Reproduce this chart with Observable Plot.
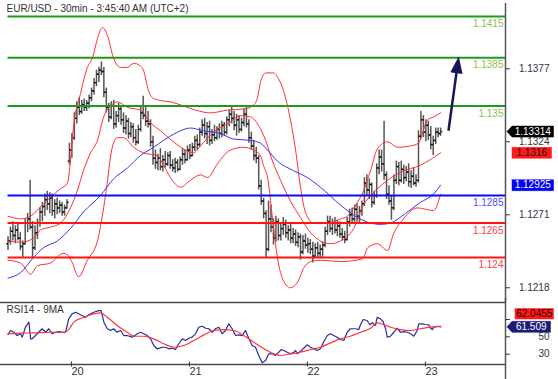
<!DOCTYPE html>
<html><head><meta charset="utf-8">
<script src="https://cdn.jsdelivr.net/npm/d3@7"></script>
<script src="https://cdn.jsdelivr.net/npm/@observablehq/plot@0.6"></script>
<style>
html,body{margin:0;padding:0;background:#fff;overflow:hidden}
#chart{position:relative;width:558px;height:379px}
#chart svg{position:absolute;left:0}
</style></head><body><div id="chart"></div>
<script>
// ---------------- DATA ----------------
const titleText = ["EUR/USD - 30min - 3:45:40 AM (UTC+2)"];
const rsiTitle = ["RSI14 - 9MA"];

// 30-minute OHLC bars (bar index 0 .. 176)
const barOpen = [
 1.1250,1.1252,1.1259,1.1256,1.1260,1.1254,1.1248,1.1250,1.1265,1.1268,1.1262,1.1247,1.1258,1.1265,1.1273,1.1277,1.1282,1.1279,1.1283,1.1274,1.1279,1.1276,1.1278,1.1273,1.1276,
 1.1310,1.1318,1.1327,1.1341,1.1349,1.1346,1.1351,1.1349,1.1352,1.1356,1.1361,1.1367,1.1373,1.1376,1.1375,
 1.1360,1.1349,1.1342,1.1350,1.1337,1.1343,1.1348,1.1340,1.1334,1.1339,1.1330,1.1335,1.1327,1.1324,1.1333,1.1345,1.1343,1.1339,1.1337,1.1324,1.1312,1.1309,1.1312,
 1.1306,1.1311,1.1308,1.1314,1.1307,1.1305,1.1309,1.1304,1.1311,1.1315,1.1311,1.1318,1.1314,1.1320,1.1325,1.1322,1.1331,1.1336,1.1330,1.1335,1.1325,1.1329,1.1327,1.1333,1.1330,1.1336,1.1331,1.1340,1.1344,1.1341,1.1336,1.1340,1.1333,1.1338,1.1344,1.1337,1.1327,1.1321,1.1314,1.1312,1.1292,
 1.1281,1.1272,1.1246,1.1268,1.1262,1.1254,1.1266,1.1256,1.1261,1.1264,1.1258,1.1260,1.1254,1.1257,1.1251,1.1255,1.1244,1.1252,1.1249,1.1250,1.1246,1.1241,1.1247,1.1243,1.1246,
 1.1249,1.1259,1.1266,1.1261,1.1265,1.1260,1.1263,1.1257,1.1255,1.1253,1.1266,1.1271,1.1268,1.1275,1.1270,1.1274,1.1279,1.1294,1.1289,1.1293,1.1280,1.1285,1.1305,1.1313,1.1308,1.1300,1.1286,1.1281,1.1276,1.1296,1.1306,1.1296,1.1304,1.1298,1.1302,1.1295,1.1299,1.1294,1.1296,1.1328,1.1340,1.1331,1.1336,1.1329,1.1322,1.1325,1.1331,1.1330
];
const barHigh = [
 1.1255,1.1262,1.1266,1.1263,1.1264,1.1258,1.1252,1.1268,1.1272,1.1296,1.1266,1.1263,1.1268,1.1276,1.1280,1.1286,1.1288,1.1287,1.1286,1.1282,1.1283,1.1281,1.1280,1.1278,1.1282,
 1.1323,1.1330,1.1345,1.1353,1.1356,1.1354,1.1355,1.1354,1.1358,1.1363,1.1370,1.1376,1.1378,1.1382,1.1378,
 1.1363,1.1352,1.1353,1.1354,1.1346,1.1352,1.1350,1.1345,1.1343,1.1341,1.1338,1.1337,1.1333,1.1336,1.1349,1.1357,1.1350,1.1346,1.1340,1.1328,1.1318,1.1315,1.1319,
 1.1314,1.1317,1.1316,1.1317,1.1311,1.1312,1.1311,1.1313,1.1319,1.1318,1.1321,1.1322,1.1323,1.1328,1.1329,1.1334,1.1340,1.1341,1.1338,1.1339,1.1333,1.1336,1.1335,1.1337,1.1339,1.1338,1.1342,1.1347,1.1349,1.1346,1.1344,1.1343,1.1341,1.1348,1.1350,1.1340,1.1331,1.1325,1.1320,1.1314,1.1296,
 1.1283,1.1274,1.1281,1.1278,1.1268,1.1270,1.1268,1.1265,1.1269,1.1267,1.1263,1.1264,1.1261,1.1260,1.1258,1.1257,1.1256,1.1257,1.1254,1.1253,1.1251,1.1250,1.1251,1.1249,1.1251,
 1.1262,1.1270,1.1270,1.1268,1.1269,1.1267,1.1266,1.1261,1.1259,1.1269,1.1275,1.1276,1.1278,1.1279,1.1277,1.1281,1.1298,1.1300,1.1297,1.1294,1.1288,1.1308,1.1318,1.1318,1.1339,1.1302,1.1292,1.1285,1.1300,1.1310,1.1309,1.1310,1.1307,1.1306,1.1308,1.1303,1.1305,1.1300,1.1332,1.1346,1.1343,1.1340,1.1339,1.1335,1.1328,1.1334,1.1334,1.1334
];
const barLow = [
 1.1245,1.1249,1.1252,1.1250,1.1252,1.1245,1.1240,1.1249,1.1258,1.1260,1.1240,1.1245,1.1253,1.1262,1.1266,1.1270,1.1274,1.1272,1.1270,1.1268,1.1271,1.1272,1.1270,1.1270,1.1275,
 1.1307,1.1312,1.1325,1.1337,1.1343,1.1344,1.1346,1.1346,1.1348,1.1353,1.1358,1.1364,1.1367,1.1372,1.1356,
 1.1345,1.1338,1.1340,1.1333,1.1334,1.1338,1.1336,1.1330,1.1329,1.1326,1.1327,1.1323,1.1321,1.1322,1.1331,1.1340,1.1335,1.1334,1.1320,1.1307,1.1304,1.1303,1.1303,
 1.1302,1.1305,1.1306,1.1304,1.1302,1.1301,1.1302,1.1303,1.1307,1.1308,1.1310,1.1311,1.1313,1.1317,1.1318,1.1320,1.1328,1.1326,1.1322,1.1321,1.1322,1.1324,1.1325,1.1326,1.1327,1.1328,1.1329,1.1335,1.1337,1.1332,1.1328,1.1330,1.1331,1.1335,1.1334,1.1323,1.1318,1.1310,1.1308,1.1289,1.1278,
 1.1268,1.1240,1.1244,1.1258,1.1249,1.1251,1.1252,1.1252,1.1256,1.1254,1.1252,1.1250,1.1250,1.1248,1.1247,1.1238,1.1242,1.1246,1.1243,1.1242,1.1236,1.1239,1.1240,1.1239,1.1240,
 1.1247,1.1256,1.1258,1.1256,1.1257,1.1255,1.1254,1.1252,1.1250,1.1252,1.1262,1.1264,1.1265,1.1266,1.1264,1.1270,1.1277,1.1285,1.1282,1.1276,1.1278,1.1283,1.1300,1.1302,1.1296,1.1282,1.1278,1.1267,1.1274,1.1293,1.1292,1.1294,1.1293,1.1295,1.1291,1.1290,1.1292,1.1291,1.1294,1.1326,1.1327,1.1324,1.1325,1.1318,1.1314,1.1322,1.1327,1.1328
];
const barClose = [
 1.1252,1.1259,1.1256,1.1260,1.1254,1.1248,1.1250,1.1265,1.1268,1.1262,1.1247,1.1258,1.1265,1.1273,1.1277,1.1282,1.1279,1.1283,1.1274,1.1279,1.1276,1.1278,1.1273,1.1276,1.1280,
 1.1318,1.1327,1.1341,1.1349,1.1346,1.1351,1.1349,1.1352,1.1356,1.1361,1.1367,1.1373,1.1376,1.1375,1.1360,
 1.1349,1.1342,1.1350,1.1337,1.1343,1.1348,1.1340,1.1334,1.1339,1.1330,1.1335,1.1327,1.1324,1.1333,1.1345,1.1343,1.1339,1.1337,1.1324,1.1312,1.1309,1.1312,1.1306,
 1.1311,1.1308,1.1314,1.1307,1.1305,1.1309,1.1304,1.1311,1.1315,1.1311,1.1318,1.1314,1.1320,1.1325,1.1322,1.1331,1.1336,1.1330,1.1335,1.1325,1.1329,1.1327,1.1333,1.1330,1.1336,1.1331,1.1340,1.1344,1.1341,1.1336,1.1340,1.1333,1.1338,1.1344,1.1337,1.1327,1.1321,1.1314,1.1312,1.1292,1.1281,
 1.1272,1.1246,1.1268,1.1262,1.1254,1.1266,1.1256,1.1261,1.1264,1.1258,1.1260,1.1254,1.1257,1.1251,1.1255,1.1244,1.1252,1.1249,1.1250,1.1246,1.1241,1.1247,1.1243,1.1246,1.1249,
 1.1259,1.1266,1.1261,1.1265,1.1260,1.1263,1.1257,1.1255,1.1253,1.1266,1.1271,1.1268,1.1275,1.1270,1.1274,1.1279,1.1294,1.1289,1.1293,1.1280,1.1285,1.1305,1.1313,1.1308,1.1300,1.1286,1.1281,1.1276,1.1296,1.1306,1.1296,1.1304,1.1298,1.1302,1.1295,1.1299,1.1294,1.1296,1.1328,1.1340,1.1331,1.1336,1.1329,1.1322,1.1325,1.1331,1.1330,1.13314
];

// Bollinger bands (20) and blue moving average, sampled [bar, price]
const bbUpper = [[0,1.1270],[5.1,1.1268],[9.2,1.1270],[14.4,1.1279],[21.4,1.1290],[24.2,1.1294],[25.4,1.1310],[26.6,1.1334],[29.5,1.1359],[32.3,1.1378],[34.4,1.1385],[36.4,1.1399],[38.4,1.1407],[40.5,1.1401],[42.9,1.1385],[45.8,1.1378],[48.6,1.1378],[51.1,1.1381],[53.9,1.1379],[55.1,1.1376],[57.2,1.1361],[58.8,1.1356],[62.0,1.1354],[66.1,1.1353],[71.4,1.1350],[76.3,1.1347],[82.4,1.1345],[89.3,1.1347],[96.6,1.1348],[99.5,1.1350],[101.5,1.1356],[102.7,1.1367],[104.8,1.1374],[108.0,1.1374],[110.0,1.1370],[112.1,1.1361],[114.9,1.1340],[117.0,1.1318],[119.0,1.1291],[121.0,1.1273],[124.3,1.1265],[130.0,1.1265],[135.3,1.1268],[138.1,1.1270],[141.4,1.1278],[144.3,1.1287],[147.5,1.1303],[150.3,1.1319],[154.4,1.1324],[158.5,1.1320],[163.8,1.1321],[167.0,1.1323],[170.7,1.1340],[173.1,1.1342],[176.0,1.1345]];
const bbMiddle = [[0,1.1252],[5.1,1.1251],[10.4,1.1254],[13.2,1.1260],[17.3,1.1262],[21.4,1.1265],[25.4,1.1276],[28.3,1.1289],[30.7,1.1303],[33.6,1.1316],[36.4,1.1325],[38.9,1.1342],[41.7,1.1350],[44.5,1.1353],[48.6,1.1349],[53.9,1.1347],[57.9,1.1338],[62.0,1.1332],[67.3,1.1324],[72.2,1.1318],[75.5,1.1316],[78.3,1.1321],[83.6,1.1331],[89.3,1.1337],[94.6,1.1343],[98.7,1.1342],[101.9,1.1336],[104.8,1.1325],[107.6,1.1310],[110.9,1.1296],[114.9,1.1281],[119.0,1.1269],[123.1,1.1258],[127.1,1.1252],[131.2,1.1250],[135.3,1.1252],[140.6,1.1261],[144.6,1.1278],[148.7,1.1287],[154.4,1.1296],[159.7,1.1302],[167.8,1.1307],[176.0,1.1316]];
const bbLower = [[0,1.1238],[5.1,1.1236],[9.2,1.1228],[12.0,1.1234],[17.3,1.1236],[22.6,1.1243],[24.2,1.1242],[26.2,1.1236],[28.7,1.1226],[32.3,1.1238],[36.4,1.1252],[38.9,1.1276],[40.5,1.1296],[41.7,1.1313],[42.9,1.1323],[44.5,1.1327],[47.0,1.1327],[51.1,1.1320],[55.1,1.1316],[60.8,1.1314],[63.3,1.1307],[66.1,1.1298],[70.2,1.1291],[74.2,1.1296],[78.3,1.1300],[81.2,1.1298],[85.2,1.1308],[90.5,1.1318],[95.8,1.1320],[99.9,1.1318],[102.7,1.1314],[103.9,1.1307],[105.6,1.1298],[108.0,1.1262],[109.6,1.1240],[112.1,1.1223],[114.9,1.1218],[117.8,1.1222],[120.2,1.1232],[123.1,1.1237],[127.1,1.1238],[135.3,1.1237],[144.3,1.1239],[146.3,1.1247],[150.3,1.1250],[154.4,1.1245],[156.8,1.1257],[160.9,1.1268],[166.6,1.1276],[173.1,1.1274],[176.0,1.1286]];
const blueMA = [[0,1.1225],[5.1,1.1229],[10.4,1.1240],[14.4,1.1247],[20.1,1.1252],[25.4,1.1261],[30.7,1.1273],[37.6,1.1285],[42.9,1.1297],[48.6,1.1305],[53.9,1.1314],[59.2,1.1320],[63.3,1.1325],[69.0,1.1331],[74.2,1.1334],[79.5,1.1332],[86.5,1.1330],[91.7,1.1326],[98.7,1.1325],[102.7,1.1323],[105.6,1.1318],[109.6,1.1310],[116.2,1.1303],[121.8,1.1298],[127.1,1.1291],[135.3,1.1278],[142.2,1.1269],[147.5,1.1265],[151.5,1.1264],[155.6,1.1265],[161.7,1.1272],[167.8,1.1280],[173.1,1.1286],[176.0,1.12925]];

// RSI(14) and its 9-period MA, sampled [bar, value]
const rsi14 = [[0,52.7],[1.0,57.3],[2.4,55.3],[3.7,51.5],[5.1,53.5],[5.8,49.6],[7.1,61.1],[8.5,66.9],[9.2,47.7],[9.8,47.7],[11.2,51.5],[12.5,55.3],[13.9,59.3],[15.3,55.3],[16.6,59.3],[18.0,53.5],[19.3,55.3],[20.7,56.1],[22.0,55.3],[23.4,55.3],[24.1,63.1],[24.7,70.8],[26.1,76.5],[27.5,78.4],[29.5,75.4],[31.5,72.6],[32.9,75.4],[34.9,78.4],[36.9,80.3],[37.9,80.3],[39.0,66.9],[40.4,59.3],[41.7,57.3],[43.0,59.3],[44.4,55.3],[45.8,57.3],[47.1,51.5],[48.5,51.5],[50.5,49.6],[52.6,53.5],[53.9,55.3],[55.2,53.5],[56.6,51.5],[58.0,47.7],[59.3,40.0],[60.7,36.2],[62.7,38.0],[64.1,38.0],[65.4,36.2],[66.8,36.9],[68.1,35.4],[69.5,42.0],[70.9,47.7],[72.2,45.8],[73.6,48.4],[74.9,49.6],[76.3,53.5],[77.6,61.1],[79.0,62.2],[80.4,59.9],[81.7,59.3],[83.1,55.3],[84.4,59.3],[85.8,61.1],[87.1,53.5],[88.5,57.3],[89.8,65.0],[91.2,59.3],[92.6,51.5],[93.9,52.3],[95.3,51.5],[96.6,57.3],[98.0,47.7],[99.3,40.0],[100.7,38.0],[102.0,28.5],[103.4,20.1],[104.8,22.7],[106.1,30.4],[107.5,30.4],[108.8,28.5],[110.2,32.3],[111.2,35.4],[112.2,34.2],[113.6,32.3],[114.9,30.4],[116.3,32.3],[117.0,34.2],[117.7,30.4],[119.0,33.1],[120.3,36.9],[121.7,40.8],[123.1,38.0],[124.4,36.2],[125.8,34.2],[127.1,36.2],[128.5,44.6],[129.9,51.5],[131.2,53.5],[132.5,51.5],[133.9,49.6],[135.3,46.9],[136.6,45.8],[138.0,55.3],[139.3,59.3],[141.4,59.3],[142.7,58.4],[143.4,63.9],[144.5,70.0],[146.1,68.8],[147.2,63.9],[148.2,66.2],[149.5,63.1],[150.2,72.6],[151.5,70.8],[152.6,67.7],[153.6,59.3],[154.3,49.6],[155.6,50.7],[157.0,55.3],[158.3,59.9],[159.7,55.3],[161.0,56.1],[162.4,55.3],[163.8,53.5],[165.1,50.7],[166.5,57.3],[167.1,65.0],[168.5,65.0],[169.9,64.2],[171.2,63.9],[171.9,59.9],[172.6,58.4],[173.3,61.1],[174.6,62.2],[176.0,61.509]];
const rsiMA9 = [[0,53.5],[5.1,54.2],[10.5,54.6],[17.3,55.3],[22.7,55.3],[24.7,58.4],[26.8,66.9],[30.9,72.6],[34.9,76.5],[37.6,77.7],[40.4,72.6],[44.4,63.1],[48.5,55.3],[51.2,50.7],[55.2,50.7],[59.3,47.7],[63.4,42.0],[67.5,38.0],[71.5,40.0],[75.6,45.8],[79.7,52.3],[83.7,57.3],[87.8,58.4],[91.9,57.3],[95.9,51.5],[100.0,43.8],[104.1,36.2],[108.2,30.4],[110.9,28.5],[114.9,30.4],[119.0,32.3],[123.1,35.4],[127.1,38.0],[131.2,43.1],[135.3,47.7],[139.3,50.7],[143.4,55.3],[147.5,59.9],[150.2,66.2],[152.9,63.9],[155.6,61.1],[159.7,58.4],[163.8,57.3],[167.8,59.3],[171.9,61.1],[176.0,62.0455]];

// Support / resistance levels
const levelValue = [1.1415, 1.1385, 1.135, 1.1285, 1.1265, 1.124];
const levelLabel = ["1.1415", "1.1385", "1.135", "1.1285", "1.1265", "1.124"];
const levelKind = ["resistance", "resistance", "resistance", "pivot", "support", "support"];

// Forecast arrow (from last price toward 1.1385)
const arrowFrom = {bar: 179.2, price: 1.1332};
const arrowTo = {bar: 183.3, price: 1.1385};

// Axis ticks (the 70 tick label sits hidden behind the value tags in the reference)
const priceTicks = [1.1377, 1.1324, 1.1271, 1.1218];
const rsiTicks = [70, 50, 30];
const rsiTickLabels = ["", "50", "30"];
const dayStartBar = [25, 73, 121, 169];
const dayLabels = ["20", "21", "22", "23"];

// ---------------- LAYOUT ----------------
const FONT = '"Liberation Sans", Arial, Helvetica, sans-serif';
const W = 558, MR = 53;
const PH = 302;                        // price panel height
const xMin = -3.05, xMax = 202.4;
const pMin = 1.12073, pMax = 1.14266;
const kx = (W - MR) / (xMax - xMin);
const kp = PH / (pMax - pMin);
const xOf = px => xMin + px / kx;       // page px -> bar
const pOfPx = py => pMax - py / kp;     // px -> price
const pxOfP = v => (pMax - v) * kp;

const RTOP = 298, RH = 81, RMT = 4, RMB = 15;
const rMin = 18.1, rMax = 89.6;
const kr = (RH - RMT - RMB) / (rMax - rMin);
const rOfPx = py => rMax - (py - RMT) / kr;   // local px -> rsi
const pxOfR = v => RMT + (rMax - v) * kr;

const bars = barClose.map((c, i) => ({i, open: barOpen[i], high: barHigh[i], low: barLow[i], close: c}));
const pts = arr => arr.map(([i, v]) => ({i, v}));
const levels = levelValue.map((v, k) => ({v, label: levelLabel[k], kind: levelKind[k]}));
const lineColor = {resistance: "#1e9a1e", pivot: "#0a0aff", support: "#ff1414"};
const textColor = {resistance: "#8cc43f", pivot: "#5050ff", support: "#ff3c3c"};

function tag(value, {bg, fg, pointer, left, right, h = 11, nudge = 0}, toPx, fromPx) {
  const cy = toPx(value) + nudge, top = cy - h / 2, bot = cy + h / 2;
  const P = pointer
    ? [[left, cy], [left + 5, top], [right, top], [right, bot], [left + 5, bot], [left, cy]]
    : [[left, top], [right, top], [right, bot], [left, bot], [left, top]];
  const poly = P.map(([px, py]) => ({x: xOf(px), y: fromPx(py)}));
  return [
    Plot.line(poly, {x: "x", y: "y", fill: bg, stroke: bg, strokeWidth: 0.5, curve: "linear"}),
    Plot.text([String(value)], {x: xOf((left + (pointer ? 5 : 0) + right) / 2), y: fromPx(cy), text: d => d,
      fill: fg, fontSize: 10, textAnchor: "middle"})
  ];
}

// arrow head geometry (in screen px, converted back to data)
const sx = (arrowTo.bar - arrowFrom.bar) * kx, sy = -(arrowTo.price - arrowFrom.price) * kp;
const L = Math.hypot(sx, sy), ux = sx / L, uy = sy / L, nx = -uy, ny = ux;
const headLen = 15, headHalf = 5.5;
const toData = (dxp, dyp) => ({i: arrowTo.bar + dxp / kx, v: arrowTo.price - dyp / kp});
const head = [toData(0, 0), toData(-ux * headLen + nx * headHalf, -uy * headLen + ny * headHalf),
  toData(-ux * headLen - nx * headHalf, -uy * headLen - ny * headHalf), toData(0, 0)];
const shaftEnd = toData(-ux * headLen * 0.8, -uy * headLen * 0.8);

const last = bars[bars.length - 1];

const pricePlot = Plot.plot({
  width: W, height: PH, marginLeft: 0, marginRight: MR, marginTop: 0, marginBottom: 0,
  x: {domain: [xMin, xMax], axis: null},
  y: {domain: [pMin, pMax]},
  style: {background: "transparent", fontFamily: FONT, overflow: "visible"},
  marks: [
    Plot.ruleX([xMax], {y1: pOfPx(3), y2: pOfPx(PH), stroke: "#555", strokeWidth: 1.5}),
    Plot.axisY(priceTicks, {anchor: "right", tickSize: 4, tickPadding: 40, textAnchor: "end",
      tickFormat: d => d.toFixed(4), fontSize: 10, color: "#333344"}),
    Plot.text(titleText, {frameAnchor: "top-left", text: d => d, dx: 6, dy: 4.5, fontSize: 10, fill: "#333"}),
    // bars
    Plot.ruleX(bars, {x: "i", y1: "low", y2: "high", stroke: "#555", strokeWidth: 1.5}),
    Plot.link(bars, {x1: d => d.i - 0.7, x2: "i", y1: "open", y2: "open", stroke: "#111", strokeWidth: 1.4}),
    Plot.link(bars, {x1: "i", x2: d => d.i + 0.7, y1: "close", y2: "close", stroke: "#111", strokeWidth: 1.4}),
    // bands and MA
    Plot.line(pts(bbUpper), {x: "i", y: "v", stroke: "#ff3030", strokeWidth: 1, curve: "monotone-x"}),
    Plot.line(pts(bbMiddle), {x: "i", y: "v", stroke: "#ff3030", strokeWidth: 1, curve: "monotone-x"}),
    Plot.line(pts(bbLower), {x: "i", y: "v", stroke: "#ff3030", strokeWidth: 1, curve: "monotone-x"}),
    Plot.line(pts(blueMA), {x: "i", y: "v", stroke: "#3535ff", strokeWidth: 1, curve: "monotone-x"}),
    // levels
    Plot.ruleY(levels, {y: "v", x1: 0, x2: xMax, stroke: d => lineColor[d.kind], strokeWidth: 2}),
    Plot.text(levels, {x: xMax, y: "v", text: "label", textAnchor: "end", dx: -2, dy: 7.5,
      fill: d => textColor[d.kind], fontSize: 10}),
    // forecast arrow
    Plot.link([{}], {x1: arrowFrom.bar, y1: arrowFrom.price, x2: shaftEnd.i, y2: shaftEnd.v,
      stroke: "#16165a", strokeWidth: 2.5}),
    Plot.line(head, {x: "i", y: "v", fill: "#16165a", stroke: "#16165a", strokeWidth: 1}),
    // value tags
    ...tag(last.close, {bg: "#000", fg: "#fff", pointer: true, left: 506.5, right: 553}, pxOfP, pOfPx),
    ...tag(bbMiddle[bbMiddle.length - 1][1], {bg: "#ff1a1a", fg: "#221111", pointer: false, left: 511.5, right: 551}, pxOfP, pOfPx),
    ...tag(blueMA[blueMA.length - 1][1], {bg: "#0000ff", fg: "#fff", pointer: false, left: 511.5, right: 553}, pxOfP, pOfPx)
  ]
});
pricePlot.style.top = "0px";

const rsiPlot = Plot.plot({
  width: W, height: RH, marginLeft: 0, marginRight: MR, marginTop: RMT, marginBottom: RMB,
  x: {domain: [xMin, xMax]},
  y: {domain: [rMin, rMax]},
  style: {background: "transparent", fontFamily: FONT, overflow: "visible"},
  marks: [
    Plot.ruleX([xMax], {y1: rOfPx(0), y2: rOfPx(RH), stroke: "#555", strokeWidth: 1.5}),
    Plot.ruleY([rMax, rMin], {x1: xMin, x2: xMax, stroke: "#4a4a4a", strokeWidth: 1.6}),
    Plot.axisY(rsiTicks, {anchor: "right", tickSize: 4, tickPadding: 40, textAnchor: "end",
      tickFormat: d => rsiTickLabels[rsiTicks.indexOf(d)], fontSize: 10, color: "#333344"}),
    Plot.axisX(dayStartBar, {anchor: "bottom", tickSize: 5, tickPadding: 0, textAnchor: "start", dx: 2, dy: -2.5,
      tickFormat: d => dayLabels[dayStartBar.indexOf(d)], fontSize: 11, color: "#333"}),
    Plot.text(rsiTitle, {frameAnchor: "top-left", text: d => d, dx: 6, dy: 3.5, fontSize: 10, fill: "#333"}),
    Plot.line(pts(rsi14), {x: "i", y: "v", stroke: "#2b2b9c", strokeWidth: 1.2}),
    Plot.line(pts(rsiMA9), {x: "i", y: "v", stroke: "#ff3636", strokeWidth: 1.2, curve: "monotone-x"}),
    ...tag(rsiMA9[rsiMA9.length - 1][1], {bg: "#ff1a1a", fg: "#2a0000", pointer: false, left: 514.5, right: 553, h: 10.5, nudge: -12.6}, pxOfR, rOfPx),
    ...tag(rsi14[rsi14.length - 1][1], {bg: "#1b1b78", fg: "#fff", pointer: true, left: 506.5, right: 550}, pxOfR, rOfPx)
  ]
});
rsiPlot.style.top = RTOP + "px";

const root = document.getElementById("chart");
root.append(pricePlot, rsiPlot);
</script>
</body></html>
